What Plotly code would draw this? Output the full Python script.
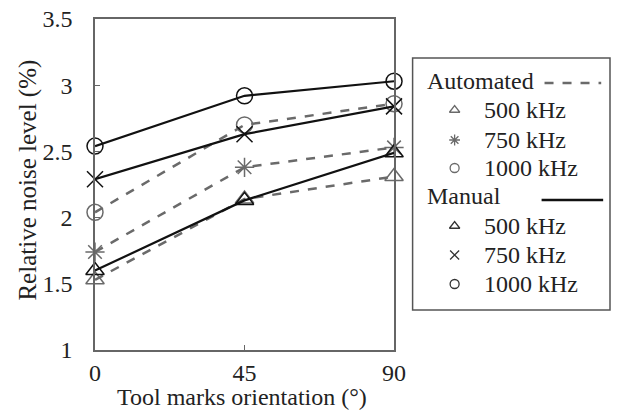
import plotly.graph_objects as go

orientation = [0, 45, 90]
freq_labels = ["500 kHz", "750 kHz", "1000 kHz"]
automated = {
    "500 kHz": [1.53, 2.14, 2.31],
    "750 kHz": [1.74, 2.38, 2.53],
    "1000 kHz": [2.04, 2.70, 2.86],
}
manual = {
    "500 kHz": [1.60, 2.13, 2.49],
    "750 kHz": [2.29, 2.63, 2.84],
    "1000 kHz": [2.54, 2.92, 3.03],
}
y_ticks = [1, 1.5, 2, 2.5, 3, 3.5]
x_ticks = [0, 45, 90]
x_title = "Tool marks orientation (°)"
y_title = "Relative noise level (%)"

GRAY = "#6a6a6a"
BLACK = "#111111"
FONT = "Liberation Serif"

auto_symbols = {"500 kHz": "triangle-up-open", "750 kHz": "asterisk-open", "1000 kHz": "circle-open"}
man_symbols = {"500 kHz": "triangle-up-open", "750 kHz": "x-thin-open", "1000 kHz": "circle-open"}

fig = go.Figure()
for f in freq_labels:
    fig.add_trace(go.Scatter(
        x=orientation, y=automated[f], mode="lines+markers",
        line=dict(color=GRAY, width=2.5, dash="dash"),
        marker=dict(symbol=auto_symbols[f], size=16, color=GRAY, line=dict(width=1.5, color=GRAY)),
        showlegend=False, cliponaxis=False,
    ))
for f in freq_labels:
    fig.add_trace(go.Scatter(
        x=orientation, y=manual[f], mode="lines+markers",
        line=dict(color=BLACK, width=2.2),
        marker=dict(symbol=man_symbols[f], size=16, color=BLACK, line=dict(width=1.5, color=BLACK)),
        showlegend=False, cliponaxis=False,
    ))

LEG_FS = 24
legend_rows_auto = [52, 82, 110]
legend_rows_man = [168, 197, 226]
for f, yy in zip(freq_labels, legend_rows_auto):
    fig.add_trace(go.Scatter(x=[43], y=[yy], mode="markers", xaxis="x2", yaxis="y2",
                             marker=dict(symbol=auto_symbols[f], size=9, color=GRAY, line=dict(width=1.3, color=GRAY)),
                             showlegend=False, hoverinfo="skip"))
    fig.add_annotation(x=71, y=yy, xref="x2", yref="y2", text=f, showarrow=False, xanchor="left",
                       font=dict(family=FONT, size=LEG_FS, color="#222"))
for f, yy in zip(freq_labels, legend_rows_man):
    fig.add_trace(go.Scatter(x=[43], y=[yy], mode="markers", xaxis="x2", yaxis="y2",
                             marker=dict(symbol=man_symbols[f], size=9, color="#333", line=dict(width=1.3, color="#333")),
                             showlegend=False, hoverinfo="skip"))
    fig.add_annotation(x=71, y=yy, xref="x2", yref="y2", text=f, showarrow=False, xanchor="left",
                       font=dict(family=FONT, size=LEG_FS, color="#222"))
fig.add_annotation(x=13, y=23, xref="x2", yref="y2", text="Automated", showarrow=False, xanchor="left",
                   font=dict(family=FONT, size=LEG_FS, color="#222"))
fig.add_annotation(x=13, y=138, xref="x2", yref="y2", text="Manual", showarrow=False, xanchor="left",
                   font=dict(family=FONT, size=LEG_FS, color="#222"))
fig.add_trace(go.Scatter(x=[135, 193], y=[25, 25], mode="lines", xaxis="x2", yaxis="y2",
                         line=dict(color=GRAY, width=2.5, dash="dash"), showlegend=False, hoverinfo="skip"))
fig.add_trace(go.Scatter(x=[132, 195], y=[142, 142], mode="lines", xaxis="x2", yaxis="y2",
                         line=dict(color=BLACK, width=2.5), showlegend=False, hoverinfo="skip"))

W_PAPER = 527.0
H_PAPER = 331.0
leg_x0 = (420 - 95) / W_PAPER
leg_y0 = (350 - 310) / H_PAPER
leg_y1 = (350 - 58) / H_PAPER

fig.add_shape(type="rect", xref="paper", yref="paper", x0=leg_x0, x1=1.0, y0=leg_y0, y1=leg_y1,
              line=dict(color="#555", width=1.5), fillcolor="rgba(0,0,0,0)")

# axis titles placed as annotations
fig.add_annotation(x=(245 - 95) / W_PAPER, y=(350 - 411) / H_PAPER, xref="paper", yref="paper",
                   text=x_title, showarrow=False, xanchor="center", yanchor="bottom", borderpad=0,
                   font=dict(family=FONT, size=24, color="#222"))
fig.add_annotation(x=(26 - 95) / W_PAPER, y=(350 - 180) / H_PAPER, xref="paper", yref="paper",
                   text=y_title, showarrow=False, textangle=-90, xanchor="center", yanchor="middle",
                   font=dict(family=FONT, size=25, color="#222"))

axis_common = dict(showgrid=False, zeroline=False, showline=True, linecolor="#666", linewidth=1.5,
                   mirror=True, ticks="inside", ticklen=5, tickcolor="#666",
                   tickfont=dict(family=FONT, size=24, color="#222"))

fig.update_layout(
    width=627, height=414,
    margin=dict(l=95, r=5, t=19, b=64),
    plot_bgcolor="white", paper_bgcolor="white",
    font=dict(family=FONT),
    xaxis=dict(domain=[0, 306 / W_PAPER], range=[0, 90], tickvals=x_ticks,
               ticktext=[str(v) for v in x_ticks], ticklabelstandoff=0, **axis_common),
    yaxis=dict(range=[1, 3.5], tickvals=y_ticks, ticktext=[f"{v:g}" for v in y_ticks], ticklabelstandoff=16,
               **axis_common),
    xaxis2=dict(domain=[leg_x0, 1.0], range=[0, 202], visible=False, fixedrange=True),
    yaxis2=dict(domain=[leg_y0, leg_y1], range=[252, 0], visible=False, fixedrange=True, anchor="x2"),
)

fig.write_html("out.html", config={"displayModeBar": False},
               post_script="document.body.style.margin='0';document.body.style.padding='0';")
